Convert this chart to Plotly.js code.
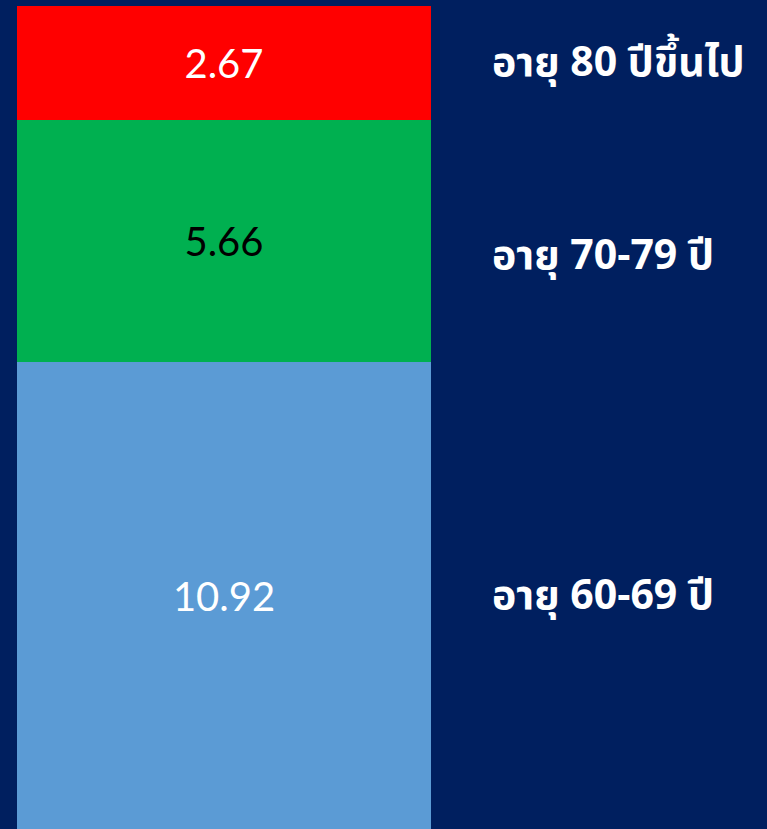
<!DOCTYPE html>
<html>
<head>
<meta charset="utf-8">
<script src="https://cdn.plot.ly/plotly-3.0.1.min.js"></script>
<style>html,body{margin:0;padding:0;background:#001F5F;}</style>
</head>
<body>
<div id="chart" style="width:767px;height:829px;"></div>
<script>
const categories = ["อายุ 60-69 ปี", "อายุ 70-79 ปี", "อายุ 80 ปีขึ้นไป"];
const values = [10.92, 5.66, 2.67];
const colors = ["#5B9BD5", "#00B050", "#FF0000"];
const textColors = ["#FFFFFF", "#000000", "#FFFFFF"];
const labelShift = [0, -15, 0];

const traces = categories.map((c, i) => ({
  type: "bar",
  x: [0],
  y: [values[i]],
  name: c,
  marker: {color: colors[i], line: {width: 0}},
  text: [values[i].toFixed(2)],
  textposition: "inside",
  insidetextanchor: "middle",
  textangle: 0,
  textfont: {family: "Lato, 'Open Sans', sans-serif", size: 40, color: textColors[i]},
  hoverinfo: "none"
}));

let cum = 0;
const annotations = categories.map((c, i) => {
  const mid = cum + values[i] / 2;
  cum += values[i];
  return {
    xref: "paper", yref: "y", x: 1.1425, y: mid, yshift: labelShift[i],
    xanchor: "left", yanchor: "middle",
    text: "<b>" + c + "</b>", showarrow: false,
    font: {family: "'Noto Sans Thai', 'Noto Sans', Roboto, sans-serif", size: 41, color: "#FFFFFF"}
  };
});
const total = values.reduce((a, b) => a + b, 0);

Plotly.newPlot("chart", traces, {
  width: 767, height: 829,
  barmode: "stack", bargap: 0,
  showlegend: false,
  paper_bgcolor: "#001F5F", plot_bgcolor: "#001F5F",
  margin: {l: 17, r: 336, t: 4, b: 0, pad: 0},
  xaxis: {range: [-0.5, 0.5], visible: false, fixedrange: true},
  yaxis: {range: [0, total * 1.0025], visible: false, fixedrange: true},
  uniformtext: {mode: false},
  annotations: annotations
}, {displayModeBar: false, staticPlot: true});
</script>
</body>
</html>
